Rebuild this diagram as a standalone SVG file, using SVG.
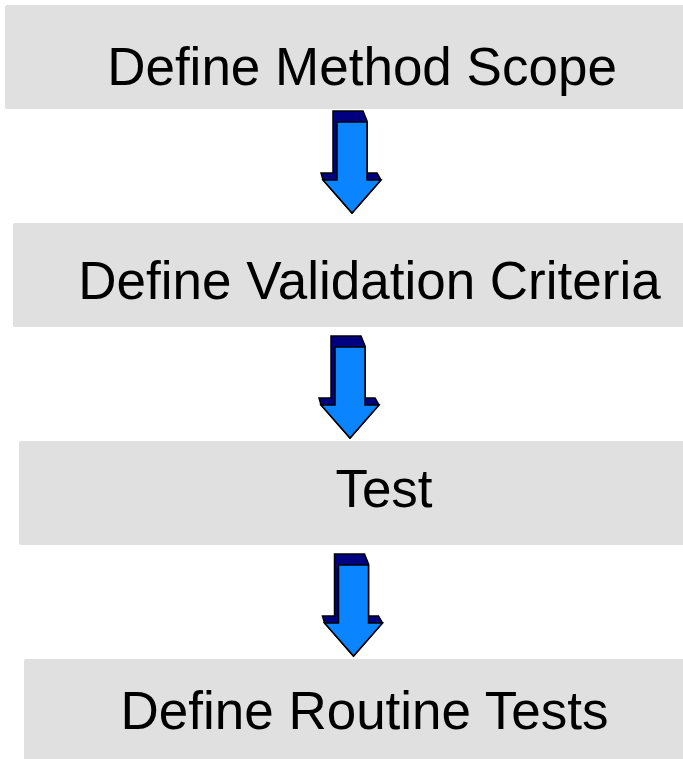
<svg xmlns="http://www.w3.org/2000/svg" width="683" height="759" viewBox="0 0 683 759">
<style>
.box{fill:#e0e0e0;}
.lbl{font-family:"Liberation Sans",Arial,sans-serif;font-size:53px;fill:#000;text-anchor:middle;}
.dk{fill:#000080;stroke:#000;stroke-width:1.5;stroke-linejoin:miter;}
.lt{fill:#0a84ff;stroke:#000;stroke-width:1.5;stroke-linejoin:miter;}
</style>
<defs>
<g id="arrow">
<polygon class="dk" points="-19,-102 11,-102 15,-92 15,-40 25,-40 29,-33 0,0 -29,-33 -31,-40 -19,-40"/>
<polygon class="lt" points="-15,-91 15,-91 15,-33 29,-33 0,0 -29,-33 -15,-33"/>
</g>
</defs>
<rect width="683" height="759" fill="#fff"/>
<g id="node1">
<rect class="box" x="5" y="5" width="690" height="104" rx="2"/>
<text class="lbl" x="362" y="85">Define Method Scope</text>
</g>
<g id="node2">
<rect class="box" x="13" y="223" width="690" height="104" rx="2"/>
<text class="lbl" x="369.5" y="299">Define Validation Criteria</text>
</g>
<g id="node3">
<rect class="box" x="19" y="441" width="690" height="104" rx="2"/>
<text class="lbl" x="384" y="507">Test</text>
</g>
<g id="node4">
<rect class="box" x="24" y="659" width="690" height="110" rx="2"/>
<text class="lbl" x="364.5" y="729">Define Routine Tests</text>
</g>
<g id="connectors">
<use href="#arrow" transform="translate(352,213)"/>
<use href="#arrow" transform="translate(350,438)"/>
<use href="#arrow" transform="translate(353.5,656)"/>
</g>
</svg>
